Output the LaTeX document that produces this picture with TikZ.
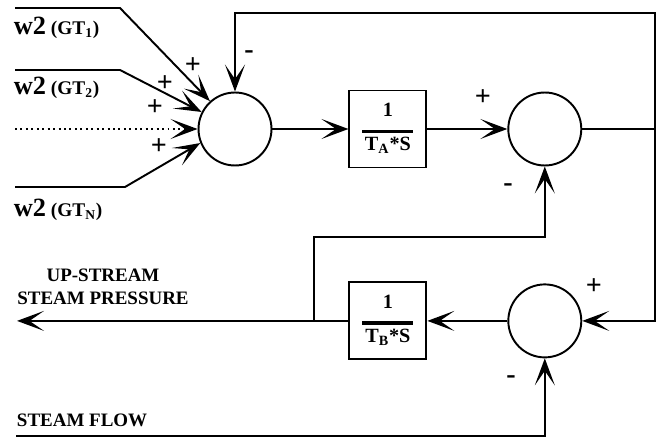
\documentclass[tikz,border=0pt]{standalone}
\usepackage{fontspec}
\setmainfont{Liberation Serif}
\usetikzlibrary{positioning, arrows.meta}

\newcommand{\blockfrac}[1]{%
  \begin{tabular}{@{}c@{}}
    1\\[-4pt]
    \rule{29pt}{1.8pt}\\[-3pt]
    T\textsubscript{#1}*S
  \end{tabular}}
\newcommand{\gtlabel}[1]{{\fontsize{15}{15}\selectfont w2} {\fontsize{11}{11}\selectfont (GT\textsubscript{#1})}}

\begin{document}
\begin{tikzpicture}[
  x=0.02cm, y=-0.02cm,
  >={Stealth[length=5.4mm, width=4mm, inset=2.9mm]}, line width=1.1pt,
  sum/.style   = {draw, circle, inner sep=0pt, minimum size=1.46cm},
  block/.style = {draw, rectangle, inner sep=0pt, minimum size=1.54cm,
                  font=\fontsize{11.5}{13}\selectfont\bfseries},
  sign/.style  = {inner sep=0pt, font=\fontsize{16}{16}\selectfont\bfseries},
  lbl/.style   = {inner sep=0pt, font=\fontsize{10.8}{13}\selectfont\bfseries},
]
  \useasboundingbox (0,0) rectangle (657,439);

  % ---- Top row: summing junction, integrator A, second junction ----
  \node[sum]                               (sum1) at (235,129) {};
  \node[block, right=1.52cm of sum1]       (intA) {\blockfrac{A}};
  \node[sum,   right=1.6cm of intA]        (sum2) {};
  \node[coordinate, right=1.45cm of sum2]  (tap)  {};

  % ---- Bottom row: third junction, integrator B, output ----
  \node[sum,   below=2.34cm of sum2]       (sum3) {};
  \node[block, left=1.6cm of sum3]         (intB) {\blockfrac{B}};
  \node[coordinate, left=0.69cm of intB]   (brn)  {};
  \node[coordinate, left=5.94cm of brn]    (pout) {};
  \node[coordinate]                        (sfin) at (16,436) {};

  % ---- GT inputs ----
  \node[coordinate] (gt1)  at (15,8)   {};
  \node[coordinate] (gt1b) at (120,8)  {};
  \node[coordinate] (gt2)  at (15,70)  {};
  \node[coordinate] (gt2b) at (120,70) {};
  \node[coordinate] (gtd)  at (15,129) {};
  \node[coordinate] (gtn)  at (15,187) {};
  \node[coordinate] (gtnb) at (125,187) {};

  \node[lbl, anchor=west] (lgt1) at (13,28)  {\gtlabel{1}};
  \node[lbl, anchor=west] (lgt2) at (13,88)  {\gtlabel{2}};
  \node[lbl, anchor=west] (lgtn) at (13,210) {\gtlabel{N}};

  \draw[->] (gt1) -- (gt1b) -- (sum1.132);
  \draw[->] (gt2) -- (gt2b) -- (sum1.153);
  \draw[->, dotted] (gtd) -- (sum1.west);
  \draw[->] (gtn) -- (gtnb) -- (sum1.202);

  % signs
  \node[sign] (p11) at (193,66)  {+};
  \node[sign] (p12) at (165,84)  {+};
  \node[sign] (p13) at (155,108) {+};
  \node[sign] (p14) at (159,147) {+};
  \node[sign] (m11) at (249,55)  {-};
  \node[sign] (p21) at (483,98)  {+};
  \node[sign] (m21) at (508,188) {-};
  \node[sign] (p31) at (594,287) {+};
  \node[sign] (m31) at (511,380) {-};

  % ---- Connections ----
  \draw[->] (sum1) -- (intA);
  \draw[->] (intA) -- (sum2);
  \draw     (sum2) -- (tap);
  \draw[->] (tap)  -- ++(0,-116) -| (sum1.north);
  \draw[->] (tap)  |- (sum3.east);
  \draw[->] (sum3) -- (intB);
  \draw[->] (intB) -- (pout);
  \draw[->] (brn)  -- ++(0,-84) -| (sum2.south);
  \draw[->] (sfin) -| (sum3.south);

  \node[lbl, align=center] (lpress) at (103,287) {UP-STREAM\\STEAM PRESSURE};
  \node[lbl, anchor=west]  (lflow)  at (16,420)  {STEAM FLOW};
\end{tikzpicture}
\end{document}
